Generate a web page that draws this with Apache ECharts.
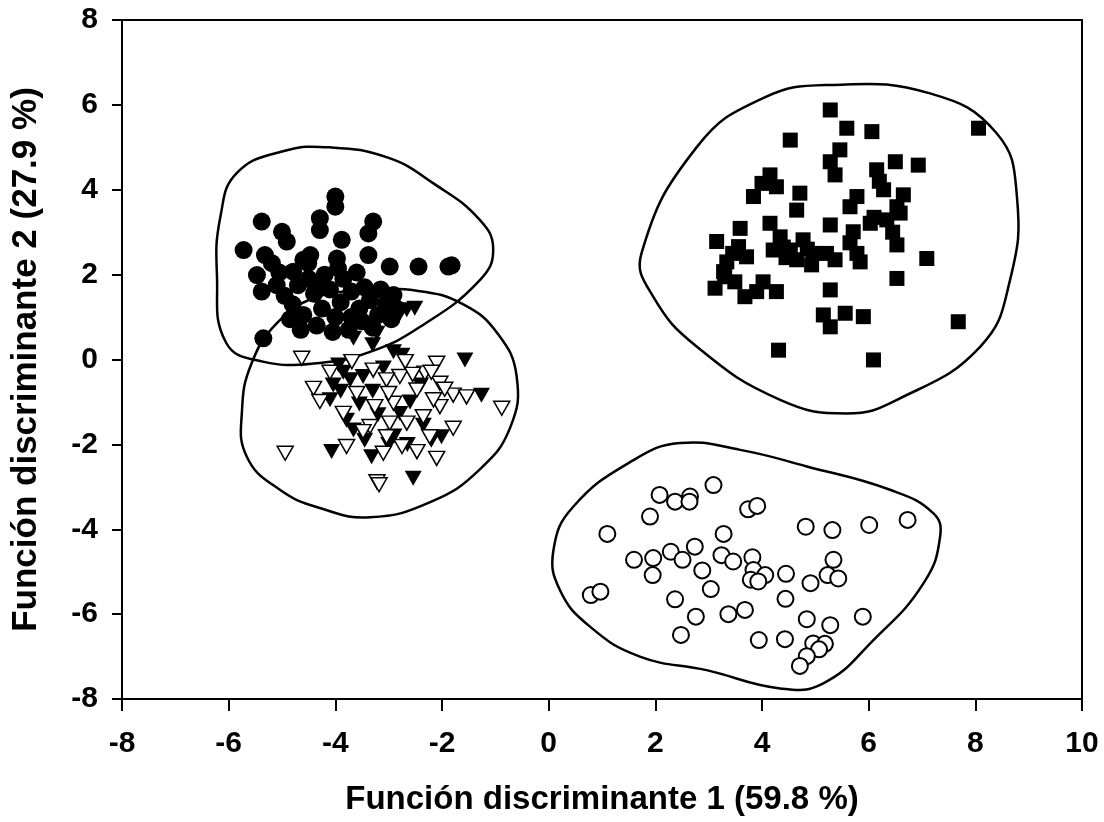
<!DOCTYPE html>
<html>
<head>
<meta charset="utf-8">
<script src="https://cdn.jsdelivr.net/npm/echarts@6/dist/echarts.min.js"></script>
<style>
html,body{margin:0;padding:0;background:#fff;}
#chart{width:1104px;height:822px;}
</style>
</head>
<body>
<div id="chart"></div>
<script>
// ---- Data ----
const xTitle = 'Función discriminante 1 (59.8 %)';
const yTitle = 'Función discriminante 2 (27.9 %)';

const filledCircles = [
[-5.72,2.58],[-5.38,3.25],[-5.32,2.46],[-5.19,2.27],[-5.47,1.99],[-5.38,1.60],[-5.00,3.01],[-4.91,2.78],
[-4.79,2.07],[-4.51,2.27],[-4.47,2.46],[-4.29,3.33],[-4.29,3.05],[-4.00,3.84],[-4.00,3.60],[-3.97,2.38],
[-3.88,2.82],[-3.38,2.97],[-3.29,3.25],[-3.38,2.46],[-2.98,2.19],[-2.44,2.19],[-1.88,2.19],[-1.82,2.22],
[-2.91,1.52],[-5.35,0.50],[-5.10,1.75],[-4.95,1.50],[-4.80,1.30],[-4.70,1.75],[-4.60,1.05],[-4.50,1.90],
[-4.40,1.55],[-4.35,0.80],[-4.25,1.20],[-4.20,2.00],[-4.10,1.65],[-4.00,1.00],[-3.90,1.35],[-3.85,1.90],
[-3.75,0.70],[-3.70,1.60],[-3.60,2.05],[-3.55,1.20],[-3.50,0.90],[-3.45,1.70],[-3.35,1.40],[-3.30,0.75],
[-3.20,1.05],[-3.15,1.65],[-3.05,1.30],[-2.95,0.95],[-2.85,1.20],[-4.65,0.70],[-4.85,0.95],[-3.95,2.15],
[-4.30,1.75],[-3.70,1.00],[-4.05,0.65],[-5.05,2.05],[-4.60,2.35]
];

const filledTriangles = [
[-3.94,-0.13],[-1.57,-0.01],[-1.26,-0.84],[-4.07,-2.17],[-3.32,-2.29],[-2.54,-2.80],[-2.01,-1.82],[-4.04,-0.60],
[-4.10,-0.95],[-3.72,-0.48],[-3.48,-0.40],[-2.91,0.18],[-2.75,0.10],[-3.66,0.50],[-3.22,0.62],[-2.66,1.17],
[-2.51,1.21],[-2.85,0.95],[-3.00,1.00],[-3.79,-1.43],[-3.66,-1.66],[-2.79,-1.27],[-2.60,-1.00],[-3.30,-0.75],
[-2.35,-1.55],[-2.90,-1.80],[-3.20,-1.30],[-3.55,-1.05],[-3.90,-0.75],[-3.10,-0.20],[-2.40,-0.60],[-3.45,-1.90],
[-2.20,-1.90],[-3.00,-2.00],[-2.65,-2.00],[-3.85,-0.30],[-3.30,0.35]
];

const openTriangles = [
[-4.63,0.03],[-4.41,-0.68],[-4.29,-0.99],[-4.94,-2.21],[-3.85,-1.27],[-3.79,-2.05],[-3.22,-2.88],[-3.18,-2.95],
[-3.10,-2.21],[-2.69,-0.05],[-2.10,-0.09],[-1.79,-0.84],[-1.54,-0.88],[-0.88,-1.15],[-1.79,-1.62],[-2.10,-2.33],
[-2.47,-2.17],[-2.32,-0.32],[-2.04,-0.56],[-2.79,-0.40],[-3.04,-0.48],[-3.29,-0.25],[-3.69,-0.05],[-3.60,-0.80],
[-3.26,-1.11],[-2.91,-1.03],[-2.66,-1.50],[-2.35,-1.35],[-2.04,-1.11],[-2.98,-1.50],[-3.35,-1.58],[-3.48,-1.70],
[-3.04,-1.82],[-2.23,-1.82],[-2.47,-0.72],[-2.16,-0.95],[-2.55,-0.35],[-3.00,-0.80],[-2.75,-2.05],[-2.20,-0.30],
[-1.95,-0.70],[-4.10,-0.30]
];

const filledSquares = [
[5.28,5.88],[5.59,5.45],[6.06,5.37],[8.06,5.45],[4.53,5.17],[5.46,4.94],[5.28,4.66],[5.37,4.35],
[6.50,4.66],[6.93,4.58],[6.15,4.47],[4.15,4.35],[4.00,4.15],[4.27,4.07],[3.84,3.84],[4.71,3.92],
[4.65,3.52],[5.78,3.84],[6.28,4.00],[6.65,3.88],[6.20,4.20],[6.53,3.60],[6.59,3.45],[6.34,3.29],
[6.03,3.21],[5.71,3.01],[5.28,3.17],[4.15,3.21],[4.34,2.89],[3.59,3.09],[3.15,2.78],[3.56,2.66],
[3.71,2.42],[3.34,2.30],[3.28,2.07],[3.12,1.68],[3.49,1.83],[3.68,1.48],[4.02,1.83],[4.27,1.60],
[4.53,2.58],[4.77,2.82],[4.96,2.50],[4.65,2.35],[4.93,2.23],[5.21,2.50],[5.37,2.35],[5.78,2.50],
[5.84,2.30],[6.53,2.70],[7.09,2.38],[6.53,1.91],[5.28,1.64],[5.15,1.05],[5.28,0.77],[5.56,1.09],
[5.90,1.01],[7.68,0.89],[4.31,0.22],[6.09,-0.01],[5.65,3.60],[4.21,2.58],[4.45,2.40],[3.45,2.50],
[3.90,1.60],[6.45,3.00],[6.10,3.35],[4.85,2.60],[5.65,2.75],[4.40,2.65],[3.30,1.95]
];

const openCircles = [
[3.09,-2.96],[2.08,-3.19],[2.37,-3.35],[2.65,-3.23],[2.64,-3.35],[1.90,-3.70],[3.74,-3.53],[3.91,-3.45],
[1.10,-4.11],[3.28,-4.11],[4.82,-3.94],[5.32,-4.02],[6.01,-3.90],[6.73,-3.78],[1.60,-4.72],[1.96,-4.68],
[2.29,-4.53],[2.51,-4.72],[2.74,-4.41],[1.95,-5.08],[2.88,-4.97],[3.24,-4.61],[3.46,-4.76],[3.82,-4.66],
[3.84,-4.96],[4.06,-5.08],[3.79,-5.19],[3.93,-5.23],[4.45,-5.05],[5.34,-4.72],[5.23,-5.08],[5.43,-5.16],
[4.91,-5.27],[0.79,-5.55],[0.97,-5.47],[3.04,-5.41],[2.37,-5.65],[4.44,-5.64],[3.37,-6.00],[3.68,-5.90],
[2.76,-6.06],[5.89,-6.06],[4.84,-6.12],[5.28,-6.26],[2.48,-6.49],[3.94,-6.61],[4.43,-6.59],[4.96,-6.69],
[5.18,-6.70],[5.07,-6.83],[4.84,-6.99],[4.71,-7.22]
];

// group envelopes (outline vertices)
const hullCircles = [[-6.22,2.0],[-6.15,3.4],[-5.85,4.39],[-5.0,4.9],[-4.1,5.0],[-3.0,4.75],[-2.16,4.15],[-1.3,3.3],
  [-1.04,2.6],[-1.29,1.87],[-2.41,0.77],[-3.35,0.18],[-4.29,-0.08],[-5.36,-0.05],[-6.05,0.4]];
const hullTriangles = [[-5.57,-0.09],[-5.1,0.85],[-4.4,1.45],[-3.5,1.62],[-2.47,1.62],[-1.6,1.3],[-0.95,0.6],[-0.6,-0.4],
  [-0.72,-1.6],[-1.3,-2.6],[-2.2,-3.35],[-3.35,-3.72],[-4.29,-3.5],[-5.04,-3.07],[-5.66,-2.29],[-5.75,-1.2]];
const hullSquares = [[1.74,2.5],[1.96,1.48],[2.78,0.30],[4.34,-0.95],[5.59,-1.27],[6.53,-0.95],[8.09,0.30],[8.65,1.87],
  [8.78,3.84],[8.4,5.33],[7.15,6.27],[5.28,6.47],[4.02,6.16],[2.78,5.01]];
const hullOpenCircles = [[2.46,-1.97],[1.59,-2.37],[0.46,-3.47],[0.09,-4.49],[0.21,-5.43],[0.78,-6.30],[1.71,-7.0],
  [2.96,-7.32],[4.34,-7.75],[5.15,-7.63],[6.09,-6.61],[7.03,-5.27],[7.34,-4.17],[7.21,-3.62],[6.4,-3.07],[4.84,-2.52],[3.59,-2.13]];

const xTicks = { min: -8, max: 10, interval: 2 };
const yTicks = { min: -8, max: 8, interval: 2 };

// ---- Chart ----
const FONT = '"Liberation Sans", Arial, sans-serif';
function hullSeries(hull) {
  return {
    type: 'custom',
    data: hull,
    encode: { x: 0, y: 1 },
    z: 1,
    silent: true,
    clip: false,
    renderItem: function (params, api) {
      if (params.dataIndex !== 0) return null;
      const pts = hull.map(p => api.coord(p));
      return {
        type: 'polygon',
        shape: { points: pts, smooth: 0.45 },
        style: { fill: 'none', stroke: '#000', lineWidth: 2.5 }
      };
    }
  };
}

const chart = echarts.init(document.getElementById('chart'), null, { renderer: 'canvas' });
chart.setOption({
  animation: false,
  backgroundColor: '#fff',
  grid: { left: 122, right: 22, top: 20, bottom: 123, show: true, borderColor: '#000', borderWidth: 2, containLabel: false },
  xAxis: {
    type: 'value', min: xTicks.min, max: xTicks.max, interval: xTicks.interval,
    name: xTitle, nameLocation: 'middle', nameGap: 84,
    nameTextStyle: { fontFamily: FONT, fontWeight: 'bold', fontSize: 33, color: '#000' },
    axisLine: { onZero: false, lineStyle: { color: '#000', width: 2 } },
    axisTick: { inside: false, length: 12, lineStyle: { color: '#000', width: 2 } },
    axisLabel: { fontFamily: FONT, fontWeight: 'bold', fontSize: 30, color: '#000', margin: 30 },
    splitLine: { show: false }
  },
  yAxis: {
    type: 'value', min: yTicks.min, max: yTicks.max, interval: yTicks.interval,
    name: yTitle, nameLocation: 'middle', nameGap: 78,
    nameTextStyle: { fontFamily: FONT, fontWeight: 'bold', fontSize: 35, color: '#000' },
    axisLine: { onZero: false, lineStyle: { color: '#000', width: 2 } },
    axisTick: { inside: false, length: 10, lineStyle: { color: '#000', width: 2 } },
    axisLabel: { fontFamily: FONT, fontWeight: 'bold', fontSize: 30, color: '#000', margin: 24 },
    splitLine: { show: false }
  },
  series: [
    hullSeries(hullCircles),
    hullSeries(hullTriangles),
    hullSeries(hullSquares),
    hullSeries(hullOpenCircles),
    { type: 'scatter', data: filledCircles, symbol: 'circle', symbolSize: 18, itemStyle: { color: '#000', opacity: 1 }, z: 3 },
    { type: 'scatter', data: filledTriangles, symbol: 'triangle', symbolRotate: 180, symbolSize: [17, 15], itemStyle: { color: '#000', opacity: 1 }, z: 3 },
    { type: 'scatter', data: openTriangles, symbol: 'triangle', symbolRotate: 180, symbolSize: [16, 14], itemStyle: { color: '#fff', borderColor: '#000', borderWidth: 1.5, opacity: 1 }, z: 4 },
    { type: 'scatter', data: filledSquares, symbol: 'rect', symbolSize: 15, itemStyle: { color: '#000', opacity: 1 }, z: 3 },
    { type: 'scatter', data: openCircles, symbol: 'circle', symbolSize: 16, itemStyle: { color: '#fff', borderColor: '#000', borderWidth: 2, opacity: 1 }, z: 3 }
  ]
});
</script>
</body>
</html>
